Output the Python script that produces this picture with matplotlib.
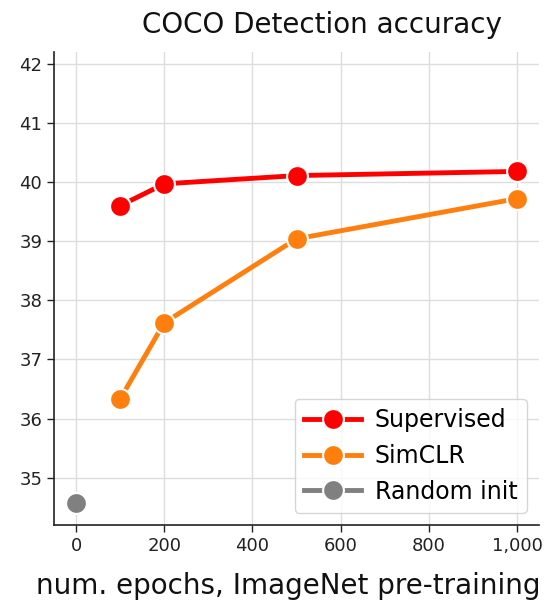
import matplotlib
matplotlib.use("Agg")
import matplotlib.pyplot as plt
from matplotlib.ticker import FuncFormatter

epochs = [100, 200, 500, 1000]
supervised = [39.60, 39.97, 40.11, 40.18]
simclr = [36.33, 37.62, 39.04, 39.72]
random_epochs = [0]
random_init = [34.58]
xticks = [0, 200, 400, 600, 800, 1000]
yticks = [35, 36, 37, 38, 39, 40, 41, 42]

plt.rcParams['font.family'] = ['DejaVu Sans']
fig = plt.figure(figsize=(5.48, 6.03), dpi=100)
ax = fig.add_axes([54/548, 1-525/603, (539-54)/548, (525-52)/603])

mk = dict(marker='o', markersize=15, markeredgecolor='white', markeredgewidth=1.5, linewidth=3.5)
ax.plot(epochs, supervised, color='#ff0000', label='Supervised', **mk)
ax.plot(epochs, simclr, color='#ff7f0e', label='SimCLR', **mk)
ax.plot(random_epochs, random_init, color='#808080', label='Random init', **mk)

ax.set_xlim(-50, 1050)
ax.set_ylim(34.2, 42.2)
ax.set_xticks(xticks)
ax.set_yticks(yticks)
ax.xaxis.set_major_formatter(FuncFormatter(lambda v, p: f"{int(v):,}"))
ax.tick_params(labelsize=13, length=5, width=1, colors='#222222')
ax.grid(True, color='#dddddd', linewidth=1)
ax.set_axisbelow(True)
for s in ['top', 'right']:
    ax.spines[s].set_visible(False)
for s in ['left', 'bottom']:
    ax.spines[s].set_color('#222222')
    ax.spines[s].set_linewidth(1.2)

ax.set_xlabel('num. epochs, ImageNet pre-training', fontsize=20, color='#111111')
ax.xaxis.set_label_coords(0.4835, -0.10)
ax.set_title('COCO Detection accuracy', fontsize=20, pad=14, color='#111111', x=0.553)
leg = ax.legend(loc='lower right', fontsize=17, borderaxespad=0.5, handlelength=2.4,
                labelspacing=0.5, handletextpad=0.6, borderpad=0.4)
leg.get_frame().set_edgecolor('#cccccc')

fig.savefig('out.png', dpi=100)
